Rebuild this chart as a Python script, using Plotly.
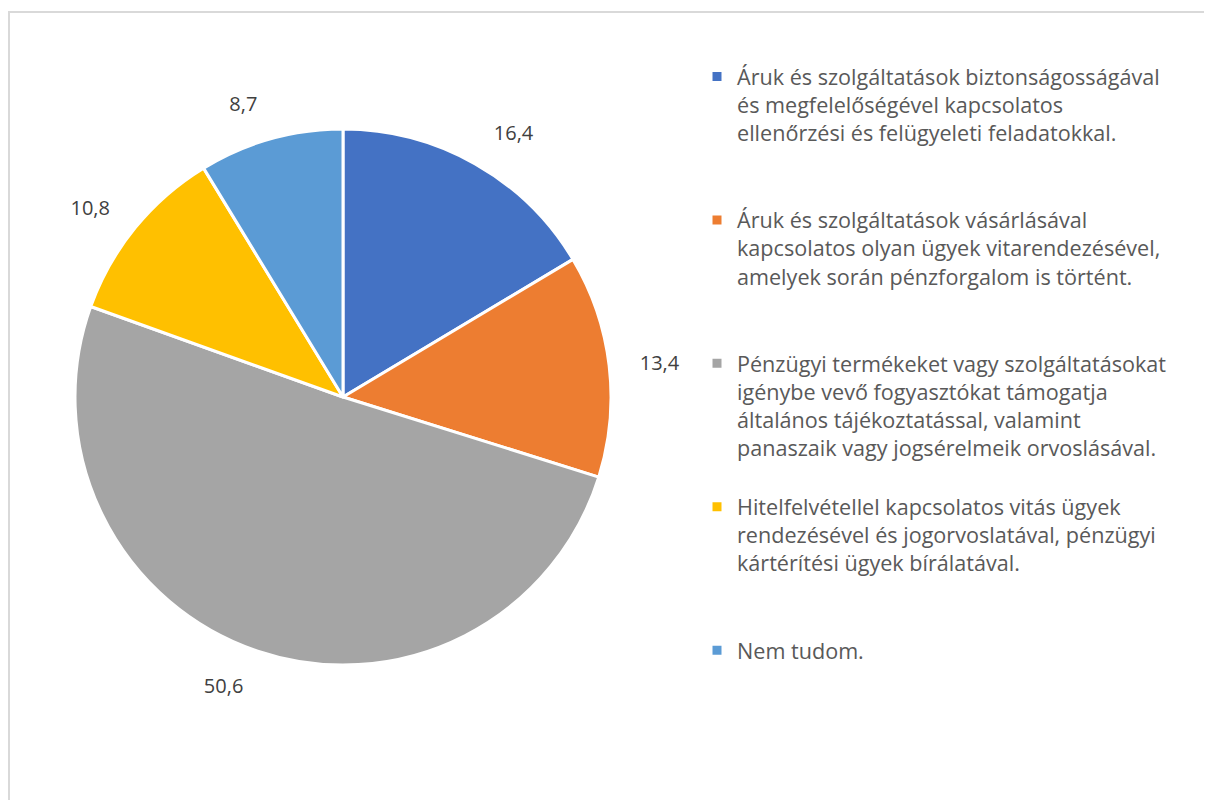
import plotly.graph_objects as go

# Adatok (a kördiagram szeletei, az óramutató járásával megegyezően, 12 órától)
labels = [
    "Áruk és szolgáltatások biztonságosságával<br>és megfelelőségével kapcsolatos<br>ellenőrzési és felügyeleti feladatokkal.",
    "Áruk és szolgáltatások vásárlásával<br>kapcsolatos olyan ügyek vitarendezésével,<br>amelyek során pénzforgalom is történt.",
    "Pénzügyi termékeket vagy szolgáltatásokat<br>igénybe vevő fogyasztókat támogatja<br>általános tájékoztatással, valamint<br>panaszaik vagy jogsérelmeik orvoslásával.",
    "Hitelfelvétellel kapcsolatos vitás ügyek<br>rendezésével és jogorvoslatával, pénzügyi<br>kártérítési ügyek bírálatával.",
    "Nem tudom.",
]
values = [16.4, 13.4, 50.6, 10.8, 8.7]
colors = ["#4472C4", "#ED7D31", "#A5A5A5", "#FFC000", "#5B9BD5"]

# legend entries padded to the same number of lines so they are spaced evenly
max_lines = 5
legend_labels = []
for lab in labels[:-1]:
    n = lab.count("<br>") + 1
    legend_labels.append(lab + "<br>\u00a0" * (max_lines - n))
legend_labels.append(labels[-1])

# page body has an 8px margin, the figure fills the rest of the window
OFF = 8
W, H = 1212 - OFF, 800 - OFF

cx, cy, r = 343 - OFF, 397 - OFF, 268   # pie centre/radius in figure px
r_txt = 292                             # helper pie used only to place the labels further out


def dom(rad):
    return dict(
        x=[(cx - rad) / W, (cx + rad) / W],
        y=[1 - (cy + rad) / H, 1 - (cy - rad) / H],
    )


fig = go.Figure()

fig.add_trace(
    go.Pie(
        labels=legend_labels,
        values=values,
        sort=False,
        direction="clockwise",
        rotation=0,
        marker=dict(colors=colors, line=dict(color="white", width=3)),
        textinfo="none",
        hoverinfo="skip",
        domain=dom(r),
    )
)

# átlátszó segéd-kör a címkékhez
fig.add_trace(
    go.Pie(
        labels=legend_labels,
        values=values,
        sort=False,
        direction="clockwise",
        rotation=0,
        marker=dict(colors=["rgba(0,0,0,0)"] * len(values), line=dict(width=0)),
        texttemplate="%{value:.1f}",
        textposition="outside",
        outsidetextfont=dict(size=20, color="#404040", family="Open Sans"),
        hoverinfo="skip",
        showlegend=False,
        domain=dom(r_txt),
    )
)

# keret
fig.add_shape(
    type="rect",
    xref="paper",
    yref="paper",
    x0=1 / W,
    x1=1.05,
    y0=-0.05,
    y1=1 - 4 / H,
    line=dict(color="#D9D9D9", width=2),
    fillcolor="rgba(0,0,0,0)",
)

fig.update_layout(
    width=W,
    height=H,
    margin=dict(l=0, r=0, t=0, b=0),
    separators=", ",
    paper_bgcolor="white",
    plot_bgcolor="white",
    font=dict(family="Open Sans", color="#595959"),
    legend=dict(
        x=689 / W,
        y=1 - 48 / H,
        xanchor="left",
        yanchor="top",
        valign="top",
        font=dict(size=21.6, color="#595959", family="Open Sans"),
        bgcolor="rgba(0,0,0,0)",
    ),
)

fig.write_html("out.html")
